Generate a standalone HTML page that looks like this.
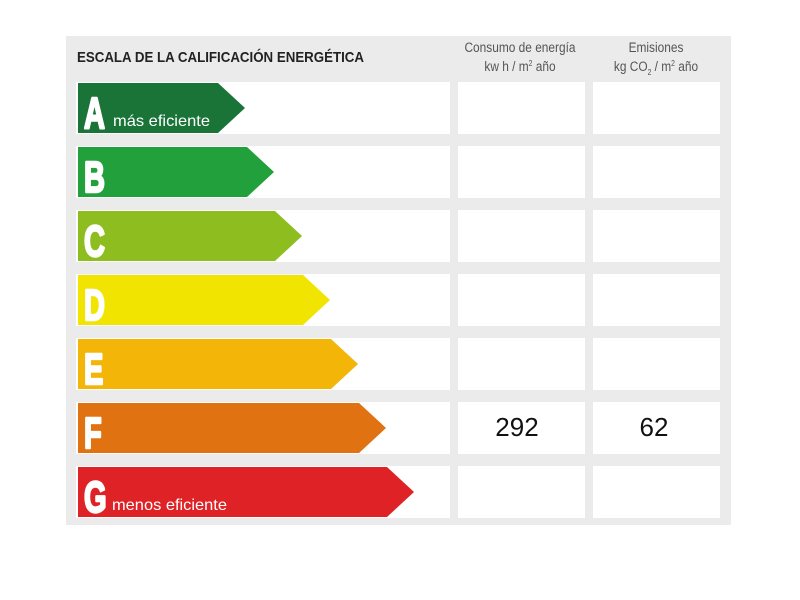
<!DOCTYPE html>
<html><head><meta charset="utf-8"><style>
html,body{margin:0;padding:0;background:#fff;width:800px;height:600px;overflow:hidden}
svg text{font-family:"Liberation Sans",sans-serif}
</style></head><body>
<svg width="800" height="600" viewBox="0 0 800 600" xmlns="http://www.w3.org/2000/svg">
<rect x="66" y="36" width="665" height="489" fill="#ebebeb"/>
<text x="77" y="62" font-size="15" font-weight="bold" fill="#222" textLength="287" lengthAdjust="spacingAndGlyphs">ESCALA DE LA CALIFICACIÓN ENERGÉTICA</text>
<text transform="translate(520,52) scale(0.85,1)" font-size="14" fill="#555" text-anchor="middle">Consumo de energía</text>
<text transform="translate(520,71) scale(0.85,1)" font-size="14" fill="#555" text-anchor="middle">kw h / m<tspan font-size="8" dy="-5">2</tspan><tspan dy="5"> año</tspan></text>
<text transform="translate(656,52) scale(0.85,1)" font-size="14" fill="#555" text-anchor="middle">Emisiones</text>
<text transform="translate(656,71) scale(0.85,1)" font-size="14" fill="#555" text-anchor="middle">kg CO<tspan font-size="8" dy="4">2</tspan><tspan dy="-4"> / m</tspan><tspan font-size="8" dy="-5">2</tspan><tspan dy="5"> año</tspan></text>
<g fill="#fff">
<rect x="76" y="82" width="374" height="52"/><rect x="458" y="82" width="127" height="52"/><rect x="593" y="82" width="127" height="52"/>
<rect x="76" y="146" width="374" height="52"/><rect x="458" y="146" width="127" height="52"/><rect x="593" y="146" width="127" height="52"/>
<rect x="76" y="210" width="374" height="52"/><rect x="458" y="210" width="127" height="52"/><rect x="593" y="210" width="127" height="52"/>
<rect x="76" y="274" width="374" height="52"/><rect x="458" y="274" width="127" height="52"/><rect x="593" y="274" width="127" height="52"/>
<rect x="76" y="338" width="374" height="52"/><rect x="458" y="338" width="127" height="52"/><rect x="593" y="338" width="127" height="52"/>
<rect x="76" y="402" width="374" height="52"/><rect x="458" y="402" width="127" height="52"/><rect x="593" y="402" width="127" height="52"/>
<rect x="76" y="466" width="374" height="52"/><rect x="458" y="466" width="127" height="52"/><rect x="593" y="466" width="127" height="52"/>
</g>
<polygon points="78,83 218,83 245,108 218,133 78,133" fill="#1a7438"/>
<polygon points="78,147 247,147 274,172 247,197 78,197" fill="#21a03b"/>
<polygon points="78,211 275,211 302,236 275,261 78,261" fill="#8dbd1f"/>
<polygon points="78,275 303,275 330,300 303,325 78,325" fill="#f0e400"/>
<polygon points="78,339 331,339 358,364 331,389 78,389" fill="#f2b508"/>
<polygon points="78,403 359,403 386,428 359,453 78,453" fill="#e07212"/>
<polygon points="78,467 387,467 414,492 387,517 78,517" fill="#de2226"/>
<g fill="#fff" stroke="#fff" stroke-width="2.5" stroke-linejoin="round" font-weight="bold" font-size="44">
<text transform="translate(84,128) scale(0.66,1)">A</text>
<text transform="translate(84,192) scale(0.66,1)">B</text>
<text transform="translate(84,256) scale(0.66,1)">C</text>
<text transform="translate(84,320) scale(0.66,1)">D</text>
<text transform="translate(84,384) scale(0.66,1)">E</text>
<text transform="translate(84,448) scale(0.66,1)">F</text>
<text transform="translate(84,512) scale(0.66,1)">G</text>
</g>
<text x="113" y="126" font-size="16" fill="#fff" textLength="97" lengthAdjust="spacingAndGlyphs">más eficiente</text>
<text x="112" y="510" font-size="16" fill="#fff" textLength="115" lengthAdjust="spacingAndGlyphs">menos eficiente</text>
<text x="517" y="436" font-size="26" fill="#111" text-anchor="middle">292</text>
<text x="654" y="436" font-size="26" fill="#111" text-anchor="middle">62</text>
</svg>
</body></html>
